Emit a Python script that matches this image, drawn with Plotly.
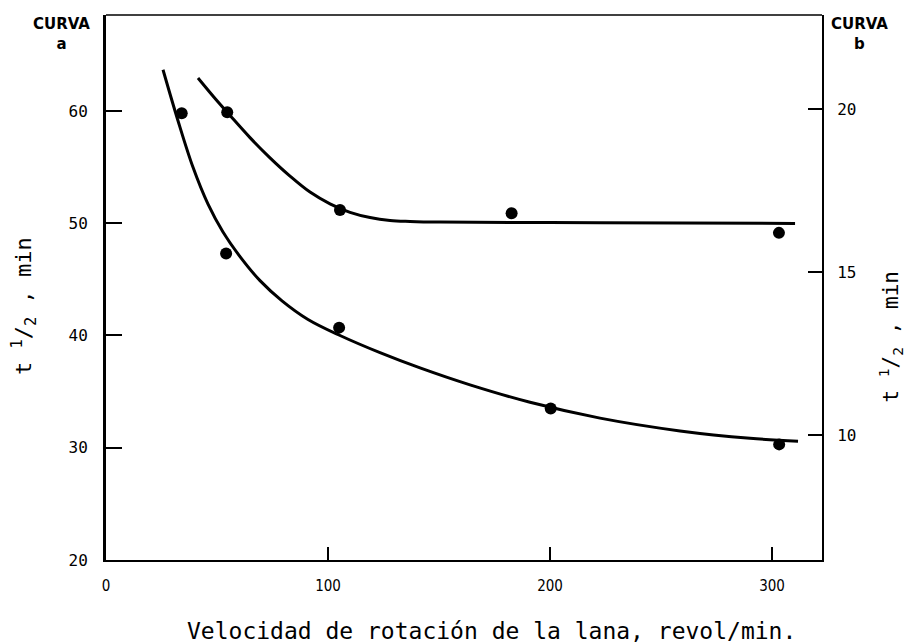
import plotly.graph_objects as go

# Measured points (curve a on left axis, curve b on right axis)
speed_a = [34.1, 54.1, 105.0, 200.3, 303.2]
t_a = [59.8, 47.3, 40.7, 33.5, 30.3]
speed_b = [54.6, 105.4, 182.7, 303.1]
t_b = [19.9, 16.9, 16.8, 16.2]

# Hand-drawn fitted curves
curve_a_x = [25.68, 32.43, 39.19, 45.95, 52.70, 60.36, 69.37, 79.28, 90.99, 105.41, 123.42,
             141.44, 163.96, 190.99, 222.52, 258.56, 290.09, 311.71]
curve_a_y = [63.67, 59.13, 54.98, 51.70, 49.22, 47.03, 44.89, 43.09, 41.43, 40.00, 38.47,
             37.11, 35.60, 34.05, 32.64, 31.50, 30.84, 30.58]
curve_b_x = [41.44, 48.65, 55.86, 64.86, 73.87, 82.88, 91.89, 100.90, 109.91, 118.92,
             127.93, 136.94, 150.45, 222.52, 310.36]
curve_b_y = [20.95, 20.36, 19.80, 19.12, 18.50, 17.94, 17.45, 17.09, 16.83, 16.67,
             16.58, 16.55, 16.53, 16.51, 16.49]

x_ticks = [0, 100, 200, 300]
a_ticks = [20, 30, 40, 50, 60]
b_ticks = [10, 15, 20]

fig = go.Figure()
fig.add_trace(go.Scatter(x=curve_a_x, y=curve_a_y, mode="lines",
                         line=dict(color="black", width=3, shape="spline", smoothing=1),
                         showlegend=False, hoverinfo="skip"))
fig.add_trace(go.Scatter(x=speed_a, y=t_a, mode="markers",
                         marker=dict(color="black", size=12),
                         showlegend=False))
fig.add_trace(go.Scatter(x=curve_b_x, y=curve_b_y, mode="lines", yaxis="y2",
                         line=dict(color="black", width=3, shape="spline", smoothing=1),
                         showlegend=False, hoverinfo="skip"))
fig.add_trace(go.Scatter(x=speed_b, y=t_b, mode="markers", yaxis="y2",
                         marker=dict(color="black", size=12),
                         showlegend=False))

mono = "DejaVu Sans Mono, Liberation Mono, monospace"
num_font = dict(family=mono, size=16, color="black")

fig.update_layout(
    width=905, height=644, autosize=False,
    margin=dict(l=106, r=83, t=15, b=84),
    paper_bgcolor="white", plot_bgcolor="white",
    xaxis=dict(range=[0, 322.5], tickvals=x_ticks, ticks="inside", ticklen=13,
               tickwidth=2, tickcolor="black", showline=True, linewidth=2,
               linecolor="black", showgrid=False, zeroline=False,
               tickfont=dict(family="DejaVu Sans Condensed, DejaVu Sans", size=15, color="black"),
               ticklabelstandoff=11),
    yaxis=dict(range=[20, 68.55], tickvals=a_ticks, ticks="inside", ticklen=16,
               tickwidth=2, tickcolor="black", showline=True, linewidth=3,
               linecolor="black", showgrid=False, zeroline=False,
               tickfont=num_font, ticklabelstandoff=12),
    yaxis2=dict(range=[6.17, 22.88], tickvals=b_ticks, ticks="inside", ticklen=14,
                tickwidth=2, tickcolor="black", showline=True, linewidth=2,
                linecolor="black", overlaying="y", side="right", showgrid=False,
                zeroline=False, tickfont=num_font, ticklabelstandoff=10),
    shapes=[dict(type="line", xref="paper", yref="paper", x0=0, x1=1, y0=1, y1=1,
                 line=dict(color="black", width=1.3))],
)

title_font = dict(family=mono, size=22, color="black")
fig.add_annotation(text="t <sup>1</sup>/<sub>2</sub> , min", xref="paper", yref="paper",
                   x=-0.1145, y=0.466, xanchor="center", yanchor="middle",
                   textangle=-90, showarrow=False, font=title_font)
fig.add_annotation(text="t <sup>1</sup>/<sub>2</sub> , min", xref="paper", yref="paper",
                   x=1.095, y=0.41, xanchor="center", yanchor="middle",
                   textangle=-90, showarrow=False, font=dict(family=mono, size=21, color="black"))
fig.add_annotation(text="Velocidad de rotación de la lana, revol/min.", xref="paper", yref="paper",
                   x=0.538, y=-0.13, xanchor="center", yanchor="middle", showarrow=False,
                   font=dict(family=mono, size=23, color="black"))
curva_font = dict(family="DejaVu Sans", size=15, color="black")
fig.add_annotation(text="<b>CURVA</b><br><b>a</b>", xref="paper", yref="paper",
                   x=-0.0615, y=1.003, xanchor="center", yanchor="top",
                   showarrow=False, font=curva_font)
fig.add_annotation(text="<b>CURVA</b><br><b>b</b>", xref="paper", yref="paper",
                   x=1.053, y=1.003, xanchor="center", yanchor="top",
                   showarrow=False, font=curva_font)

fig.write_html("out.html")
